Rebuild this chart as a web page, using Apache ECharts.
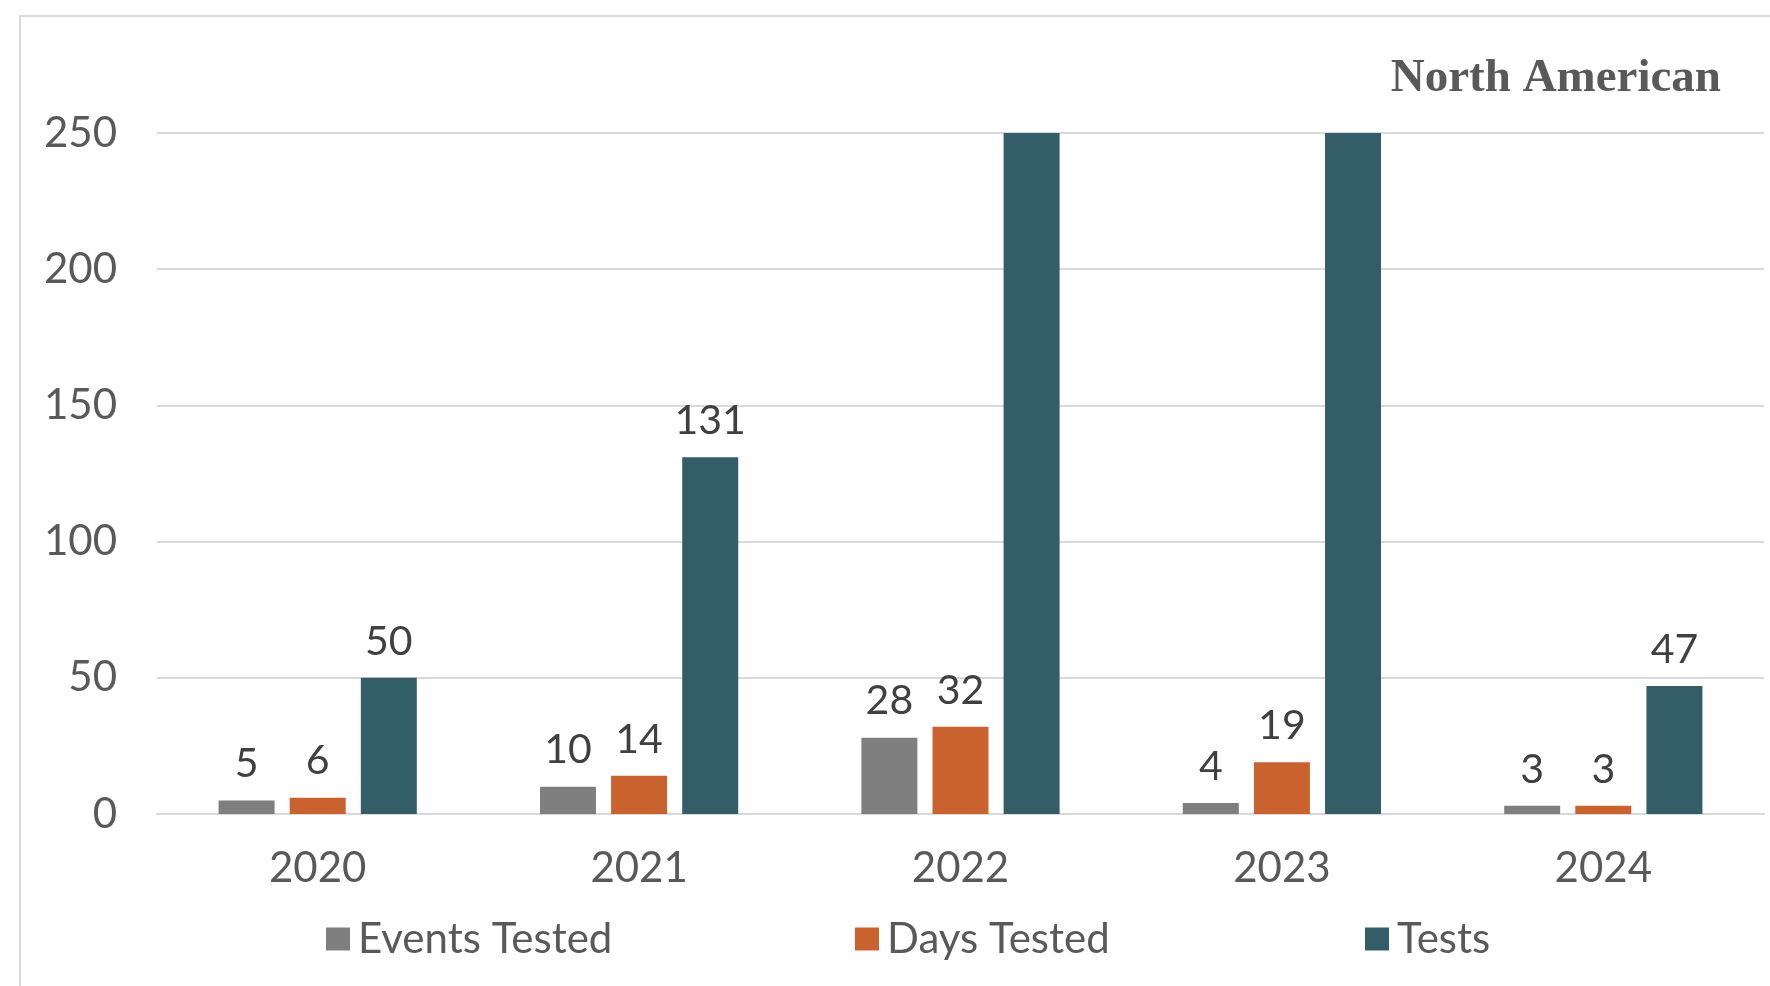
<!DOCTYPE html>
<html>
<head>
<meta charset="utf-8">
<script src="https://cdn.jsdelivr.net/npm/echarts@6/dist/echarts.min.js"></script>
<style>html,body{margin:0;padding:0;background:#fff}#c{width:1770px;height:986px}</style>
</head>
<body>
<div id="c"></div>
<script>
const categories = ['2020', '2021', '2022', '2023', '2024'];
const eventsTested = [5, 10, 28, 4, 3];
const daysTested = [6, 14, 32, 19, 3];
// 2022 and 2023 test counts run off the top of the axis in the reference (values not shown)
const tests = [50, 131, 300, 300, 47];
const yTicks = [0, 50, 100, 150, 200, 250];
const seriesNames = ['Events Tested', 'Days Tested', 'Tests'];
const colors = ['#7F7F7F', '#CA6230', '#335E67'];
const titleText = 'North American';

const yMax = yTicks[yTicks.length - 1];
const textColor = '#595959';
const fontFam = 'Lato, "Open Sans", sans-serif';
const legendLefts = [326, 855, 1365];

function mkSeries(name, data, color) {
  return {
    name: name,
    type: 'bar',
    data: data,
    barWidth: 56,
    barGap: '27%',
    clip: true,
    itemStyle: { color: color },
    label: {
      show: true,
      position: 'top',
      distance: 16,
      fontSize: 41,
      fontFamily: fontFam,
      color: '#404040',
      formatter: p => (p.value > yMax ? '' : String(p.value))
    }
  };
}

const chart = echarts.init(document.getElementById('c'), null, { renderer: 'canvas' });
chart.setOption({
  animation: false,
  backgroundColor: '#fff',
  color: colors,
  title: {
    text: titleText,
    right: 44,
    top: 50,
    textStyle: { fontFamily: '"Liberation Serif", "DejaVu Serif", serif', fontSize: 47, fontWeight: 'bold', color: textColor }
  },
  graphic: [{
    type: 'rect',
    shape: { x: 20, y: 16, width: 1800, height: 1000 },
    style: { fill: 'none', stroke: '#D9D9D9', lineWidth: 2 },
    silent: true
  }],
  grid: { left: 157, right: 6, top: 133, bottom: 172, containLabel: false },
  legend: seriesNames.map((n, i) => ({
    data: [n],
    left: legendLefts[i],
    top: 918,
    padding: 0,
    itemWidth: 24,
    itemHeight: 23,
    itemGap: 12,
    icon: 'rect',
    textStyle: { fontSize: 42, fontFamily: fontFam, color: textColor, padding: [0, 0, 0, 3] }
  })),
  xAxis: {
    type: 'category',
    data: categories,
    axisTick: { show: false },
    axisLine: { lineStyle: { color: '#D9D9D9', width: 2 } },
    axisLabel: { fontSize: 42, fontFamily: fontFam, color: textColor, margin: 33 }
  },
  yAxis: {
    type: 'value',
    min: 0,
    max: yMax,
    interval: 50,
    axisLine: { show: false },
    axisTick: { show: false },
    splitLine: { lineStyle: { color: '#D9D9D9', width: 2 } },
    axisLabel: { fontSize: 42, fontFamily: fontFam, color: textColor, margin: 40 }
  },
  series: [
    mkSeries(seriesNames[0], eventsTested, colors[0]),
    mkSeries(seriesNames[1], daysTested, colors[1]),
    mkSeries(seriesNames[2], tests, colors[2])
  ]
});
</script>
</body>
</html>
